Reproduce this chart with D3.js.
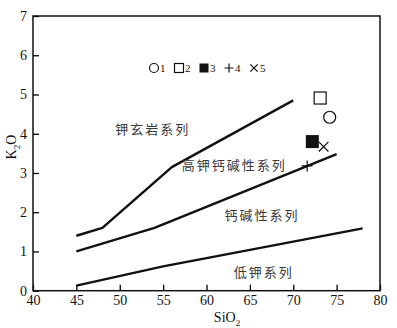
<!DOCTYPE html>
<html>
<head>
<meta charset="utf-8">
<script src="https://cdn.jsdelivr.net/npm/d3@7.9.0/dist/d3.min.js"></script>
<style>
  body { margin: 0; background: #fff; }
  svg { display: block; }
  svg text.serif, svg .serif text { font-family: "Liberation Serif", "Times New Roman", Times, serif !important; }
  .series { font-family: "Noto Sans CJK SC", sans-serif; fill: #3a3a3a; font-size: 13px; letter-spacing: 2px; }
</style>
</head>
<body>
<div id="chart"></div>
<script>
// boundary lines (SiO2, K2O)
const shoshoniteLine = [[45, 1.4], [48, 1.6], [56, 3.15], [70, 4.85]];
const highKLine = [[45, 1.0], [54, 1.6], [56, 1.78], [75, 3.48]];
const lowKLine = [[45, 0.13], [55, 0.62], [65, 1.04], [70, 1.25], [78, 1.59]];

// samples: type 1..5
const samples = [
  { type: 1, sio2: 74.2, k2o: 4.42 },
  { type: 2, sio2: 73.1, k2o: 4.91 },
  { type: 3, sio2: 72.2, k2o: 3.8 },
  { type: 4, sio2: 71.6, k2o: 3.18 },
  { type: 5, sio2: 73.5, k2o: 3.67 },
];

const legendTypes = [1, 2, 3, 4, 5];
const seriesLabels = [
  { text: '钾玄岩系列', sio2: 53.8, k2o: 4.12 },
  { text: '高钾钙碱性系列', sio2: 63.2, k2o: 3.2 },
  { text: '钙碱性系列', sio2: 66.4, k2o: 1.91 },
  { text: '低钾系列', sio2: 66.6, k2o: 0.47 },
];

const xTicks = [40, 45, 50, 55, 60, 65, 70, 75, 80];
const yTicks = [0, 1, 2, 3, 4, 5, 6, 7];

const width = 397;
const height = 328;

const x = d3.scaleLinear().domain([40, 80]).range([33, 380]);
const y = d3.scaleLinear().domain([0, 7]).range([290.7, 16]);

const svg = d3.select('#chart').append('svg')
  .attr('width', width)
  .attr('height', height);

// axes with inward ticks
const xAxis = svg.append('g')
  .attr('transform', `translate(0,${y(0)})`)
  .call(d3.axisBottom(x).tickValues(xTicks).tickFormat(d3.format('d'))
    .tickSizeInner(-6).tickSizeOuter(0).tickPadding(4));
const yAxis = svg.append('g')
  .attr('transform', `translate(${x(40)},0)`)
  .call(d3.axisLeft(y).tickValues(yTicks).tickFormat(d3.format('d'))
    .tickSizeInner(-6).tickSizeOuter(0).tickPadding(6));

[xAxis, yAxis].forEach((g) => {
  g.attr('font-family', null).attr('font-size', null);
  g.select('.domain').remove();
  g.selectAll('line').attr('stroke', '#000').attr('stroke-width', 1.3);
  g.selectAll('text').attr('class', 'serif').attr('font-size', 14).attr('fill', '#111');
});

// frame
svg.append('rect')
  .attr('x', x(40)).attr('y', y(7))
  .attr('width', x(80) - x(40)).attr('height', y(0) - y(7))
  .attr('fill', 'none').attr('stroke', '#111').attr('stroke-width', 1.5);

// axis titles
const xt = svg.append('text').attr('class', 'serif').attr('x', 227).attr('y', 322)
  .attr('text-anchor', 'middle').attr('font-size', 14).attr('fill', '#111');
xt.append('tspan').text('SiO');
xt.append('tspan').attr('dy', 4).attr('font-size', 9).text('2');

const yt = svg.append('text').attr('class', 'serif').attr('transform', 'translate(16,147) rotate(-90)')
  .attr('text-anchor', 'middle').attr('font-size', 14).attr('fill', '#111');
yt.append('tspan').text('K');
yt.append('tspan').attr('dy', 4).attr('font-size', 9).text('2');
yt.append('tspan').attr('dy', -4).text('O');

// boundary lines
const line = d3.line().x((d) => x(d[0])).y((d) => y(d[1]));
svg.append('g').selectAll('path')
  .data([shoshoniteLine, highKLine, lowKLine])
  .join('path')
  .attr('d', line)
  .attr('fill', 'none')
  .attr('stroke', '#111')
  .attr('stroke-width', 2.4)
  .attr('stroke-linejoin', 'round');

// series labels
svg.append('g').selectAll('text')
  .data(seriesLabels)
  .join('text')
  .attr('class', 'series')
  .attr('x', (d) => x(d.sio2))
  .attr('y', (d) => y(d.k2o))
  .attr('text-anchor', 'middle')
  .attr('dy', '0.35em')
  .text((d) => d.text);

function drawMarker(g, type, s) {
  const h = s / 2;
  if (type === 1) {
    g.append('circle').attr('r', h).attr('fill', 'none').attr('stroke', '#111').attr('stroke-width', 1.2);
  } else if (type === 2) {
    g.append('rect').attr('x', -h).attr('y', -h).attr('width', s).attr('height', s)
      .attr('fill', 'none').attr('stroke', '#111').attr('stroke-width', 1.2);
  } else if (type === 3) {
    g.append('rect').attr('x', -h).attr('y', -h).attr('width', s).attr('height', s).attr('fill', '#111');
  } else if (type === 4) {
    g.append('path').attr('d', `M${-h},0H${h}M0,${-h}V${h}`).attr('stroke', '#111').attr('stroke-width', 1.2);
  } else {
    const k = h * 0.8;
    g.append('path').attr('d', `M${-k},${-k}L${k},${k}M${-k},${k}L${k},${-k}`).attr('stroke', '#111').attr('stroke-width', 1.2);
  }
}

const markerSize = { 1: 12, 2: 12, 3: 13, 4: 11, 5: 12 };
const legendSize = { 1: 9, 2: 9, 3: 9, 4: 9, 5: 9 };

// samples
samples.forEach((d) => {
  const g = svg.append('g').attr('transform', `translate(${x(d.sio2)},${y(d.k2o)})`);
  drawMarker(g, d.type, markerSize[d.type]);
});

// legend
const legendX = d3.scalePoint().domain(legendTypes).range([154, 254]);
legendTypes.forEach((t) => {
  const g = svg.append('g').attr('transform', `translate(${legendX(t)},68)`);
  drawMarker(g, t, legendSize[t]);
  g.append('text').attr('class', 'serif').attr('x', 6).attr('dy', '0.35em')
    .attr('font-size', 11).attr('fill', '#111').text(t);
});
</script>
</body>
</html>
